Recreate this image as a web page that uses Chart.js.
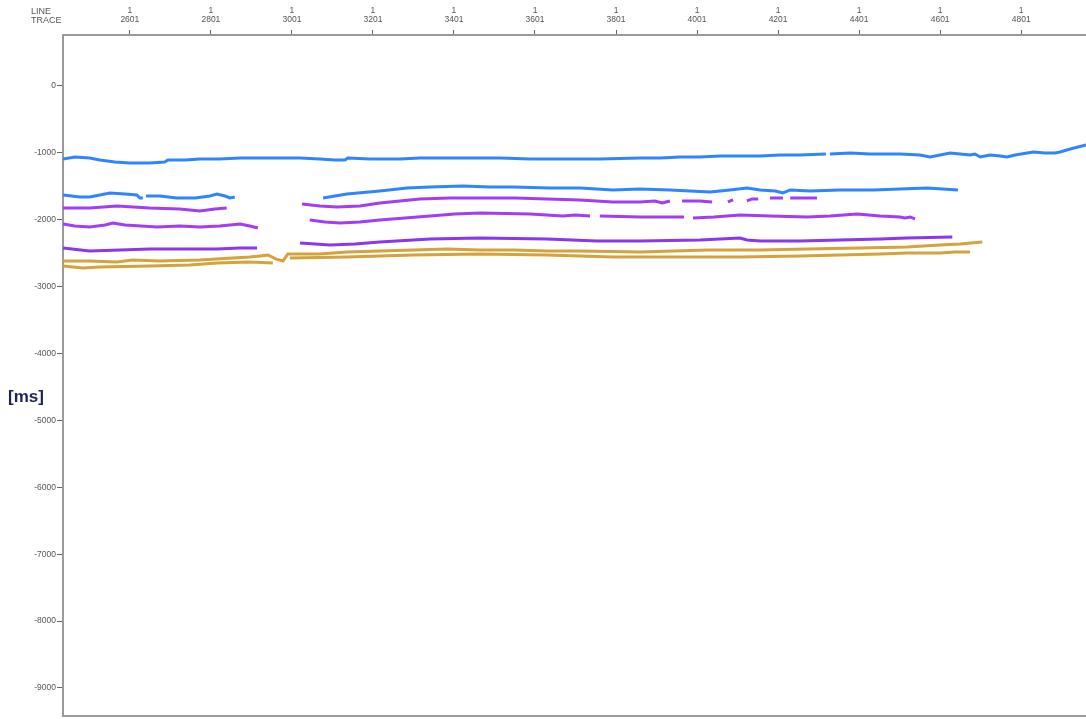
<!DOCTYPE html>
<html>
<head>
<meta charset="utf-8">
<title>Horizon picks</title>
<script src="https://cdn.jsdelivr.net/npm/chart.js@4.4.1/dist/chart.umd.min.js"></script>
<style>
  html, body { margin: 0; padding: 0; background: #ffffff; }
  #wrap { width: 1086px; height: 719px; position: relative; }
</style>
</head>
<body>
<div id="wrap"><canvas id="c" width="1086" height="719"></canvas></div>
<script>
// Axis ticks
const traceTicks = [2601, 2801, 3001, 3201, 3401, 3601, 3801, 4001, 4201, 4401, 4601, 4801];
const lineNumber = '1';
const msTicks = [0, -1000, -2000, -3000, -4000, -5000, -6000, -7000, -8000, -9000];

// Horizon A (blue, shallow)
const traceA = [2436, 2465, 2502, 2527, 2564, 2601, 2650, 2687, 2695, 2737, 2774, 2823, 2873, 2922, 2971, 3021, 3070, 3107, 3132, 3139, 3194, 3268, 3317, 3391, 3465, 3515, 3589, 3663, 3761, 3860, 3910, 3959, 4008, 4058, 4107, 4157, 4206, 4255, 4319, 4324, 4329, 4379, 4428, 4502, 4551, 4576, 4601, 4626, 4650, 4675, 4687, 4700, 4724, 4749, 4766, 4786, 4831, 4860, 4885, 4897, 4922, 4961];
const msA    = [-1091, -1061, -1076, -1106, -1136, -1151, -1151, -1136, -1106, -1106, -1091, -1091, -1076, -1076, -1076, -1076, -1091, -1106, -1106, -1076, -1091, -1091, -1076, -1076, -1076, -1076, -1091, -1091, -1091, -1076, -1076, -1061, -1061, -1047, -1047, -1047, -1032, -1032, -1017, null, -1017, -1002, -1017, -1017, -1032, -1061, -1032, -1002, -1017, -1032, -1017, -1061, -1032, -1047, -1061, -1032, -987, -1002, -1002, -987, -942, -882];

// Horizon B (blue)
const traceB = [2436, 2478, 2502, 2552, 2589, 2618, 2626, 2633, 2638, 2641, 2675, 2717, 2762, 2799, 2816, 2836, 2848, 2860, 2950, 3078, 3107, 3137, 3218, 3285, 3342, 3423, 3490, 3547, 3638, 3712, 3793, 3860, 3934, 3983, 4033, 4082, 4124, 4157, 4194, 4213, 4231, 4280, 4354, 4436, 4502, 4569, 4645];
const msB    = [-1630, -1660, -1660, -1600, -1615, -1630, -1675, -1675, null, -1645, -1645, -1675, -1675, -1645, -1615, -1645, -1675, -1660, null, -1675, -1645, -1615, -1570, -1525, -1510, -1495, -1510, -1510, -1525, -1525, -1555, -1540, -1555, -1570, -1585, -1555, -1525, -1555, -1570, -1600, -1555, -1570, -1555, -1555, -1540, -1525, -1555];

// Horizon C (purple)
const traceC = [2436, 2502, 2569, 2650, 2724, 2774, 2811, 2840, 2950, 3026, 3070, 3112, 3169, 3218, 3317, 3391, 3465, 3552, 3631, 3712, 3793, 3860, 3897, 3915, 3934, 3945, 3964, 4008, 4038, 4060, 4077, 4090, 4105, 4124, 4137, 4152, 4165, 4181, 4213, 4222, 4231, 4297];
const msC    = [-1824, -1824, -1794, -1824, -1839, -1869, -1839, -1824, null, -1764, -1794, -1809, -1794, -1749, -1689, -1675, -1675, -1675, -1689, -1704, -1734, -1734, -1719, -1749, -1719, null, -1719, -1719, -1734, null, -1734, -1704, null, -1719, -1689, -1689, null, -1675, -1675, null, -1675, -1675];

// Horizon D (purple)
const traceD = [2436, 2465, 2502, 2540, 2559, 2589, 2668, 2724, 2774, 2823, 2873, 2897, 2917, 2960, 3045, 3083, 3120, 3169, 3218, 3280, 3342, 3403, 3465, 3589, 3670, 3700, 3737, 3748, 3761, 3860, 3934, 3969, 3980, 3991, 4043, 4107, 4181, 4273, 4329, 4396, 4453, 4502, 4514, 4527, 4539];
const msD    = [-2063, -2093, -2108, -2078, -2048, -2078, -2108, -2093, -2108, -2093, -2063, -2093, -2123, null, -2003, -2033, -2048, -2033, -2003, -1973, -1944, -1914, -1899, -1914, -1944, -1929, -1944, null, -1944, -1958, -1958, -1958, null, -1973, -1958, -1929, -1944, -1958, -1944, -1914, -1944, -1958, -1973, -1958, -1988];

// Horizon E (violet)
const traceE = [2436, 2502, 2577, 2650, 2749, 2816, 2873, 2915, 2950, 3021, 3095, 3157, 3218, 3342, 3465, 3631, 3754, 3860, 4008, 4107, 4124, 4157, 4255, 4354, 4453, 4519, 4631];
const msE    = [-2422, -2467, -2452, -2437, -2437, -2437, -2422, -2422, null, -2347, -2377, -2362, -2332, -2287, -2272, -2287, -2317, -2317, -2302, -2272, -2302, -2317, -2317, -2302, -2287, -2272, -2257];

// Horizon F (gold, upper)
const traceF = [2436, 2502, 2569, 2608, 2675, 2774, 2855, 2897, 2922, 2942, 2961, 2979, 2991, 3070, 3137, 3218, 3300, 3384, 3465, 3547, 3631, 3712, 3860, 4026, 4157, 4273, 4403, 4519, 4601, 4650, 4705];
const msF    = [-2616, -2616, -2631, -2601, -2616, -2601, -2571, -2556, -2542, -2527, -2586, -2616, -2512, -2512, -2482, -2467, -2452, -2437, -2452, -2452, -2467, -2467, -2482, -2452, -2452, -2437, -2422, -2407, -2377, -2362, -2332];

// Horizon G (gold, lower)
const traceG = [2436, 2485, 2527, 2650, 2749, 2816, 2897, 2954, 2972, 2996, 3137, 3300, 3465, 3631, 3793, 3959, 4107, 4255, 4354, 4453, 4519, 4601, 4638, 4675];
const msG    = [-2691, -2721, -2706, -2691, -2676, -2646, -2631, -2646, null, -2571, -2556, -2527, -2512, -2527, -2556, -2556, -2556, -2542, -2527, -2512, -2497, -2497, -2482, -2482];

const BLUE = '#2f85ff';
const PURPLE = '#a33cf6';
const VIOLET = '#8b36ef';
const GOLD = '#d5a23c';

function pts(xs, ys) {
  return xs.map((x, i) => ({ x: x, y: ys[i] }));
}
function horizon(label, xs, ys, color) {
  return {
    label: label,
    data: pts(xs, ys),
    borderColor: color,
    backgroundColor: color,
    borderWidth: 3,
    pointRadius: 0,
    tension: 0,
    spanGaps: false,
    fill: false
  };
}

const FONT = "'Liberation Sans', Arial, sans-serif";

// Header labels and the vertical unit label
const headerPlugin = {
  id: 'header',
  afterDraw(chart) {
    const ctx = chart.ctx;
    ctx.save();
    ctx.fillStyle = '#555555';
    ctx.font = '9px ' + FONT;
    ctx.textAlign = 'left';
    ctx.textBaseline = 'middle';
    ctx.fillText('LINE', 31, 12);
    ctx.fillText('TRACE', 31, 21);
    ctx.font = 'bold 17px ' + FONT;
    ctx.fillStyle = '#1e2456';
    ctx.textAlign = 'left';
    ctx.fillText('[ms]', 8, 397);
    ctx.restore();
  }
};

new Chart(document.getElementById('c'), {
  type: 'line',
  data: {
    datasets: [
      horizon('Horizon A', traceA, msA, BLUE),
      horizon('Horizon B', traceB, msB, BLUE),
      horizon('Horizon C', traceC, msC, PURPLE),
      horizon('Horizon D', traceD, msD, PURPLE),
      horizon('Horizon E', traceE, msE, VIOLET),
      horizon('Horizon F', traceF, msF, GOLD),
      horizon('Horizon G', traceG, msG, GOLD)
    ]
  },
  options: {
    responsive: false,
    animation: false,
    layout: { padding: 0 },
    plugins: { legend: { display: false }, tooltip: { enabled: false } },
    scales: {
      x: {
        type: 'linear',
        position: 'top',
        min: 2436,
        max: 4961,
        afterBuildTicks(scale) { scale.ticks = traceTicks.map(v => ({ value: v })); },
        afterFit(scale) { scale.height = 35; scale.paddingLeft = 0; scale.paddingRight = 0; },
        ticks: {
          autoSkip: false,
          maxRotation: 0,
          padding: 5,
          color: '#555555',
          font: { size: 8.5, family: FONT, lineHeight: 1.15 },
          callback: (v) => [lineNumber, String(v)]
        },
        grid: { display: true, drawOnChartArea: false, drawTicks: true, tickLength: 5, color: '#666666', lineWidth: 1 },
        border: { display: true, color: '#9a9a9a', width: 2 }
      },
      xb: {
        type: 'linear',
        position: 'bottom',
        min: 2436,
        max: 4961,
        afterFit(scale) { scale.height = 3; scale.paddingLeft = 0; scale.paddingRight = 0; },
        ticks: { display: false },
        grid: { display: false, drawTicks: false },
        border: { display: true, color: '#9a9a9a', width: 2 }
      },
      y: {
        type: 'linear',
        position: 'left',
        min: -9419,
        max: 762,
        afterBuildTicks(scale) { scale.ticks = msTicks.map(v => ({ value: v })); },
        afterFit(scale) { scale.width = 63; scale.paddingTop = 0; scale.paddingBottom = 0; },
        ticks: {
          autoSkip: false,
          padding: 1,
          color: '#555555',
          font: { size: 8.5, family: FONT },
          callback: (v) => String(v)
        },
        grid: { display: true, drawOnChartArea: false, drawTicks: true, tickLength: 6, color: '#666666', lineWidth: 1 },
        border: { display: true, color: '#9a9a9a', width: 2 }
      }
    }
  },
  plugins: [headerPlugin]
});
</script>
</body>
</html>
